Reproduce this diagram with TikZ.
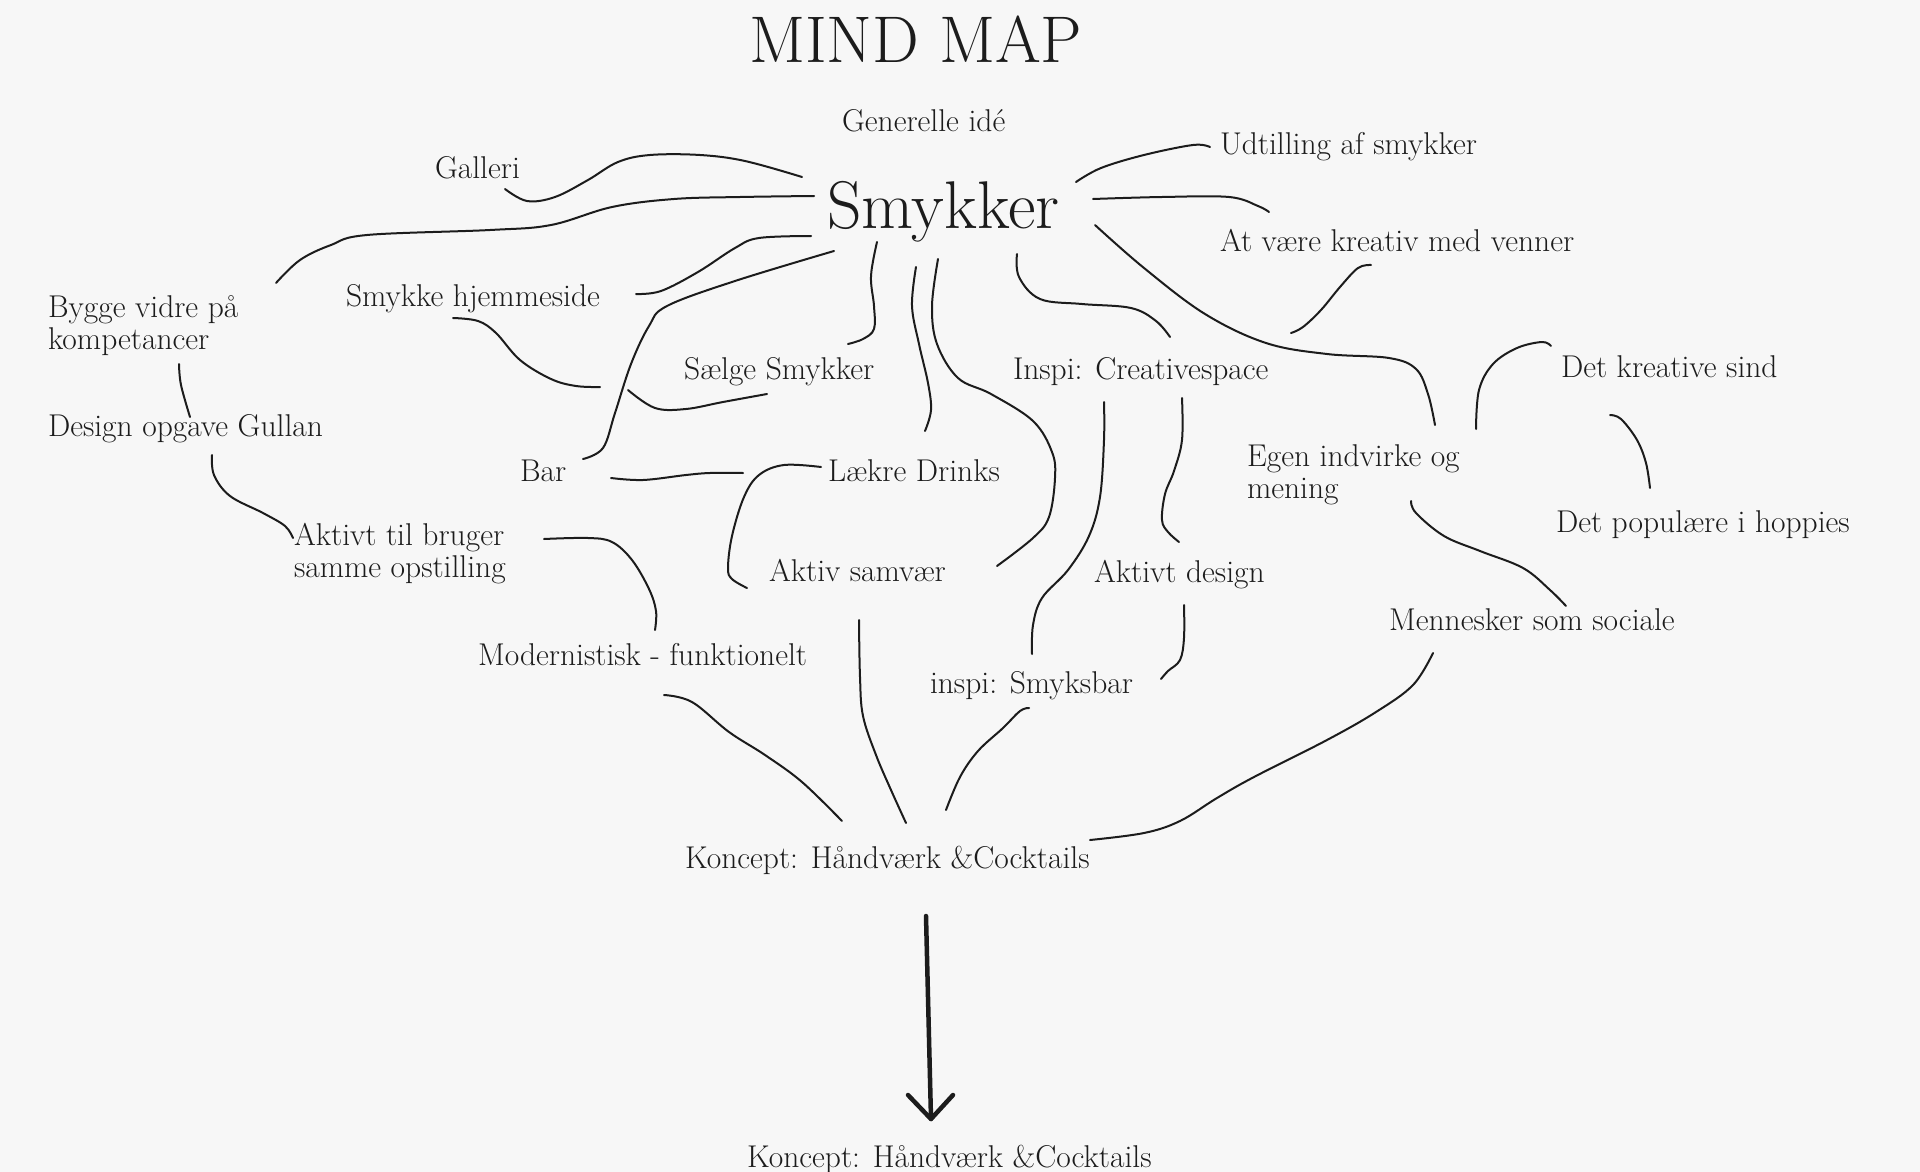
\documentclass[tikz,border=0pt]{standalone}
\definecolor{bg}{RGB}{247,247,247}
\definecolor{ink}{RGB}{28,28,28}
\newcommand\twol[2]{\begin{tabular}[t]{@{}l@{}}#1\\#2\end{tabular}}
\tikzset{
  lbl/.style={anchor=base west, inner sep=0pt, outer sep=0pt, text=ink,
    font=\fontsize{31.5}{32}\selectfont},
  big/.style={lbl, font=\fontsize{66}{66}\selectfont},
  curve/.style={draw=ink, line width=2pt, line cap=round, line join=round, smooth, tension=0.6},
  bigarrow/.style={draw=ink, line width=4.5pt, line cap=round, line join=round}
}
\begin{document}
\begin{tikzpicture}[x=1pt,y=-1pt]
\useasboundingbox (0,0) rectangle (1920,1172);
\fill[bg] (0,0) rectangle (1920,1172);

% ---------- texts ----------
\node[big] (title) at (749,63) {MIND MAP};
\node[lbl] (gen) at (842,131) {Generelle idé};
\node[big, font=\fontsize{67.5}{67.5}\selectfont] (smykker) at (827,228) {Smykker};
\node[lbl] (galleri) at (435,178) {Galleri};
\node[lbl] (udt) at (1220,154) {Udtilling af smykker};
\node[lbl] (kreativ) at (1220,251) {At være kreativ med venner};
\node[lbl] (bygge) at (48,317) {\twol{Bygge vidre på}{kompetancer}};
\node[lbl] (hjem) at (346,306) {Smykke hjemmeside};
\node[lbl] (saelge) at (684,379) {Sælge Smykker};
\node[lbl] (inspic) at (1013,379) {Inspi: Creativespace};
\node[lbl] (sind) at (1561,377) {Det kreative sind};
\node[lbl] (design) at (48,436) {Design opgave Gullan};
\node[lbl] (bar) at (520,481) {Bar};
\node[lbl] (laekre) at (828,481) {Lækre Drinks};
\node[lbl] (egen) at (1247,466) {\twol{Egen indvirke og}{mening}};
\node[lbl] (pop) at (1556,532) {Det populære i hoppies};
\node[lbl] (aktivt) at (294,545) {\twol{Aktivt til bruger}{samme opstilling}};
\node[lbl] (samvaer) at (769,581) {Aktiv samvær};
\node[lbl] (adesign) at (1094,582) {Aktivt design};
\node[lbl] (mennesker) at (1389,630) {Mennesker som sociale};
\node[lbl] (modern) at (478,665) {Modernistisk - funktionelt};
\node[lbl] (smyksbar) at (930,693) {inspi: Smyksbar};
\node[lbl] (koncept) at (685,868) {Koncept: Håndværk \&Cocktails};
\node[lbl] (koncept2) at (747,1167) {Koncept: Håndværk \&Cocktails};

% ---------- connector end points ----------
\coordinate (p1a) at (505,189);  \coordinate (p1b) at (802,177);
\coordinate (p2a) at (814,196);  \coordinate (p2b) at (276,283);
\coordinate (p3a) at (811,236);  \coordinate (p3b) at (636,294);
\coordinate (p4a) at (834,251);  \coordinate (p4b) at (583,459);
\coordinate (p5a) at (877,242);  \coordinate (p5b) at (848,344);
\coordinate (p6a) at (453,318);  \coordinate (p6b) at (600,387);
\coordinate (p7a) at (628,390);  \coordinate (p7b) at (767,394);
\coordinate (p8a) at (916,267);  \coordinate (p8b) at (925,431);
\coordinate (p9a) at (938,259);  \coordinate (p9b) at (997,566);
\coordinate (p10a) at (611,478); \coordinate (p10b) at (743,473);
\coordinate (p11a) at (821,467); \coordinate (p11b) at (747,588);
\coordinate (p12a) at (179,364); \coordinate (p12b) at (190,417);
\coordinate (p13a) at (212,455); \coordinate (p13b) at (293,538);
\coordinate (p14a) at (544,539); \coordinate (p14b) at (655,630);
\coordinate (p15a) at (1076,182); \coordinate (p15b) at (1210,147);
\coordinate (p16a) at (1093,199); \coordinate (p16b) at (1269,212);
\coordinate (p17a) at (1371,265); \coordinate (p17b) at (1291,333);
\coordinate (p18a) at (1095,225); \coordinate (p18b) at (1435,425);
\coordinate (p19a) at (1017,254); \coordinate (p19b) at (1170,337);
\coordinate (p20a) at (1476,429); \coordinate (p20b) at (1551,346);
\coordinate (p21a) at (1610,415); \coordinate (p21b) at (1650,488);
\coordinate (p22a) at (1411,501); \coordinate (p22b) at (1566,606);
\coordinate (p23a) at (1104,402); \coordinate (p23b) at (1032,654);
\coordinate (p24a) at (1182,398); \coordinate (p24b) at (1179,542);
\coordinate (p25a) at (1184,605); \coordinate (p25b) at (1161,679);
\coordinate (p26a) at (1433,653); \coordinate (p26b) at (1090,840);
\coordinate (p27a) at (1029,708); \coordinate (p27b) at (946,810);
\coordinate (p28a) at (859,620); \coordinate (p28b) at (906,823);
\coordinate (p29a) at (664,695); \coordinate (p29b) at (842,821);
\coordinate (arrS) at (926,916);  \coordinate (arrE) at (931,1119);

% ---------- connectors ----------
\draw[curve] plot coordinates {(p1a) (527,201) (555,197) (588,180) (618,162) (650,155) (700,155) (745,161) (p1b)};
\draw[curve] plot coordinates {(p2a) (740,197) (674,199) (612,207) (551,225) (490,230) (367,235) (331,245) (300,260) (p2b)};
\draw[curve] plot coordinates {(p3a) (759,238) (735,248) (698,272) (661,291) (p3b)};
\draw[curve] plot coordinates {(p4a) (735,281) (667,306) (649,326) (631,364) (615,413) (603,448) (p4b)};
\draw[curve] plot coordinates {(p5a) (871,276) (874,306) (874,329) (863,339) (p5b)};
\draw[curve] plot coordinates {(p6a) (478,321) (496,333) (520,360) (551,379) (576,386) (p6b)};
\draw[curve] plot coordinates {(p7a) (655,408) (686,409) (723,402) (p7b)};
\draw[curve] plot coordinates {(p8a) (912,306) (919,344) (928,383) (931,410) (p8b)};
\draw[curve] plot coordinates {(p9a) (932,306) (937,344) (958,378) (991,394) (1033,421) (1052,452) (1055,478) (1049,517) (1033,538) (p9b)};
\draw[curve] plot coordinates {(p10a) (643,480) (686,475) (710,473) (p10b)};
\draw[curve] plot coordinates {(p11a) (784,465) (759,475) (744,497) (732,536) (728,568) (732,579) (p11b)};
\draw[curve] plot coordinates {(p12a) (181,385) (p12b)};
\draw[curve] plot coordinates {(p13a) (214,475) (230,496) (263,513) (285,526) (p13b)};
\draw[curve] plot coordinates {(p14a) (588,538) (612,542) (632,560) (649,589) (656,611) (p14b)};
\draw[curve] plot coordinates {(p15a) (1101,168) (1144,155) (1193,145) (p15b)};
\draw[curve] plot coordinates {(p16a) (1162,197) (1229,197) (1258,206) (p16b)};
\draw[curve] plot coordinates {(p17a) (1358,268) (1340,287) (1321,310) (1303,327) (p17b)};
\draw[curve] plot coordinates {(p18a) (1144,268) (1205,314) (1266,343) (1327,354) (1389,358) (1416,369) (1428,394) (p18b)};
\draw[curve] plot coordinates {(p19a) (1019,277) (1040,299) (1082,304) (1131,308) (1156,321) (p19b)};
\draw[curve] plot coordinates {(p20a) (1479,390) (1493,364) (1517,348) (1542,342) (p20b)};
\draw[curve] plot coordinates {(p21a) (1621,419) (1637,440) (1646,463) (p21b)};
\draw[curve] plot coordinates {(p22a) (1416,513) (1444,536) (1480,551) (1523,568) (1550,590) (p22b)};
\draw[curve] plot coordinates {(p23a) (1104,440) (1100,497) (1089,536) (1068,570) (1042,598) (1033,625) (p23b)};
\draw[curve] plot coordinates {(p24a) (1182,440) (1174,471) (1165,494) (1162,520) (1168,532) (p24b)};
\draw[curve] plot coordinates {(p25a) (1184,638) (1180,660) (1168,671) (p25b)};
\draw[curve] plot coordinates {(p26a) (1413,685) (1376,712) (1327,740) (1254,777) (1217,798) (1180,821) (1144,833) (p26b)};
\draw[curve] plot coordinates {(p27a) (1020,711) (1003,728) (978,751) (960,777) (p27b)};
\draw[curve] plot coordinates {(p28a) (860,677) (863,716) (876,755) (891,790) (p28b)};
\draw[curve] plot coordinates {(p29a) (692,702) (729,732) (765,755) (802,782) (p29b)};

% ---------- big arrow ----------
\draw[bigarrow] (arrS) -- (arrE);
\draw[bigarrow] (arrE) ++(-23,-24) -- (arrE) -- ++(22,-24);
\end{tikzpicture}
\end{document}
